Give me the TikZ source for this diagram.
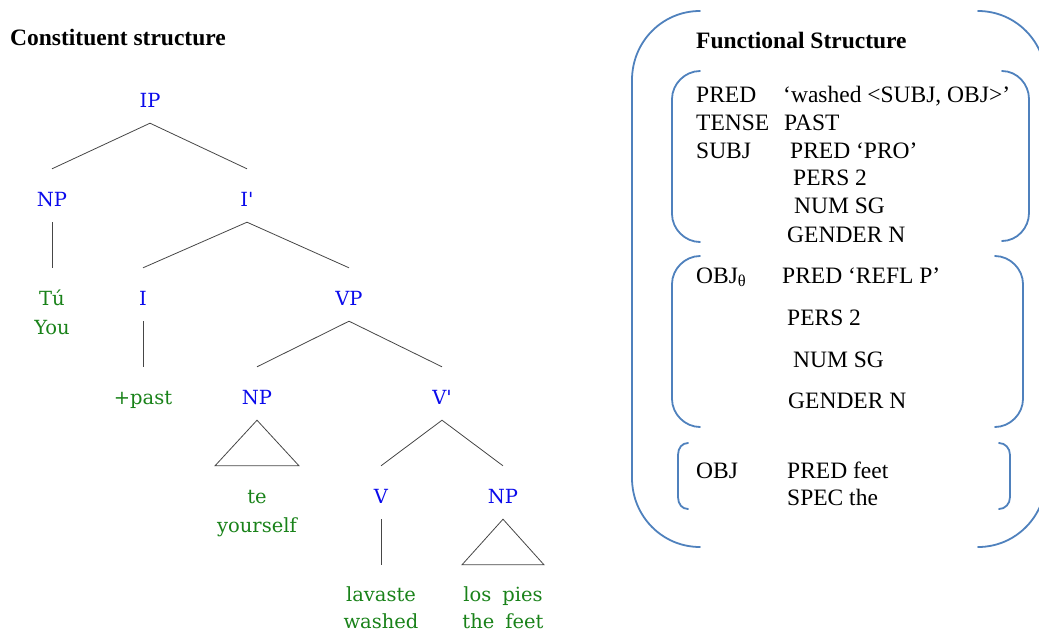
\documentclass[tikz,border=0pt]{standalone}
\usepackage{fontspec}
\setmainfont{Liberation Serif}
\newfontfamily\treefont{DejaVu Serif}
\usetikzlibrary{calc}
\definecolor{catblue}{RGB}{10,10,235}
\definecolor{wordgreen}{RGB}{25,130,25}
\definecolor{fsblue}{RGB}{79,129,189}
\definecolor{branch}{RGB}{70,70,70}

\begin{document}
\begin{tikzpicture}[x=1pt,y=-1pt,
  cat/.style={font=\treefont\fontsize{19.5}{19.5}\selectfont, text=catblue,
    inner sep=0pt, text height=14pt, text depth=4pt, anchor=base},
  word/.style={cat, text=wordgreen},
  branchline/.style={draw=branch, line width=0.8pt},
  heading/.style={font=\fontsize{23.5}{23.5}\selectfont\bfseries, anchor=base west, inner sep=0pt},
  feat/.style={font=\fontsize{23.5}{23.5}\selectfont, anchor=base west, inner sep=0pt},
  paren/.style={draw=fsblue, line width=1.8pt, line cap=round}
]
\useasboundingbox (0,0) rectangle (1039,633);

% ---------- constituent structure ----------
\node[heading] (ctitle) at (10,45) {Constituent structure};

\node[cat]  (IP)   at (150,107) {IP};
\node[cat]  (NPa)  at (52,206)  {NP};
\node[cat]  (Ibar) at (247,206) {I\textquotesingle};
\node[word] (tu)   at (52,305)  {Tú};
\node[word] (you)  at (52,334)  {You};
\node[cat]  (I)    at (143,305) {I};
\node[cat]  (VP)   at (349,305) {VP};
\node[word] (tpast) at (143,404) {+past};
\node[cat]  (NPb)  at (257,404) {NP};
\node[cat]  (Vbar) at (442,404) {V\textquotesingle};
\node[word] (te)   at (257,503) {te};
\node[word] (yourself) at (257,532) {yourself};
\node[cat]  (V)    at (381,503) {V};
\node[cat]  (NPc)  at (503,503) {NP};
\node[word] (lavaste) at (381,601) {lavaste};
\node[word] (washed)  at (381,628) {washed};
\node[word] (lospies) at (503,601) {los\hspace{11pt}pies};
\node[word] (thefeet) at (503,628) {the\hspace{11pt}feet};

% branches
\draw[branchline] ($(NPa.north)+(0,-23)$) -- ($(IP.south)+(0,12)$) -- ($(Ibar.north)+(0,-23)$);
\draw[branchline] ($(NPa.south)+(0,12)$) -- ($(tu.north)+(0,-23)$);
\draw[branchline] ($(I.north)+(0,-23)$) -- ($(Ibar.south)+(0,12)$) -- ($(VP.north)+(0,-23)$);
\draw[branchline] ($(I.south)+(0,12)$) -- ($(tpast.north)+(0,-23)$);
\draw[branchline] ($(NPb.north)+(0,-23)$) -- ($(VP.south)+(0,12)$) -- ($(Vbar.north)+(0,-23)$);
\draw[branchline] ($(NPb.south)+(0,12)$) -- ($(te.north)+(-42,-23)$) -- ($(te.north)+(42,-23)$) -- cycle;
\draw[branchline] ($(V.north)+(0,-23)$) -- ($(Vbar.south)+(0,12)$) -- ($(NPc.north)+(0,-23)$);
\draw[branchline] ($(V.south)+(0,12)$) -- ($(lavaste.north)+(0,-22)$);
\draw[branchline] ($(NPc.south)+(0,12)$) -- ($(lospies.north)+(-41,-22)$) -- ($(lospies.north)+(41,-22)$) -- cycle;

% ---------- functional structure ----------
\draw[paren] (700,11) .. controls (662,11) and (632,42) .. (632,80) -- (632,478)
  .. controls (632,516) and (662,547) .. (700,547);
\draw[paren] (978,11) .. controls (1016,11) and (1046,42) .. (1046,80) -- (1046,478)
  .. controls (1046,516) and (1016,547) .. (978,547);

\draw[paren] (700,71) .. controls (685,71) and (672,84) .. (672,99) -- (672,214)
  .. controls (672,229) and (685,242) .. (700,242);
\draw[paren] (1002,71) .. controls (1017,71) and (1029,84) .. (1029,99) -- (1029,213)
  .. controls (1029,228) and (1017,241) .. (1002,241);

\draw[paren] (700,256) .. controls (685,256) and (672,269) .. (672,284) -- (672,399)
  .. controls (672,414) and (685,427) .. (700,427);
\draw[paren] (995,256) .. controls (1010,256) and (1023,269) .. (1023,284) -- (1023,399)
  .. controls (1023,414) and (1010,427) .. (995,427);

\draw[paren] (688,443) .. controls (682,443) and (678,448) .. (678,455) -- (678,497)
  .. controls (678,504) and (682,509) .. (688,509);
\draw[paren] (999,443) .. controls (1005,443) and (1010,448) .. (1010,455) -- (1010,497)
  .. controls (1010,504) and (1005,509) .. (999,509);

\node[heading] (ftitle) at (696,48) {Functional Structure};

\node[feat] (pred)     at (696,102) {PRED};
\node[feat] (predval)  at (783,102) {‘washed <SUBJ, OBJ>’};
\node[feat] (tense)    at (696,130) {TENSE};
\node[feat] (tenseval) at (784,130) {PAST};
\node[feat] (subj)     at (696,158) {SUBJ};
\node[feat] (spred)    at (790,158) {PRED ‘PRO’};
\node[feat] (spers)    at (793,185) {PERS 2};
\node[feat] (snum)     at (794,213) {NUM SG};
\node[feat] (sgen)     at (787,242) {GENDER N};

\node[feat] (objt)     at (696,283) {OBJ\textsubscript{θ}};
\node[feat] (opred)    at (782,283) {PRED ‘REFL P’};
\node[feat] (opers)    at (787,325) {PERS 2};
\node[feat] (onum)     at (793,367) {NUM SG};
\node[feat] (ogen)     at (788,408) {GENDER N};

\node[feat] (obj)      at (696,478) {OBJ};
\node[feat] (bpred)    at (787,478) {PRED feet};
\node[feat] (bspec)    at (787,505) {SPEC the};
\end{tikzpicture}
\end{document}
